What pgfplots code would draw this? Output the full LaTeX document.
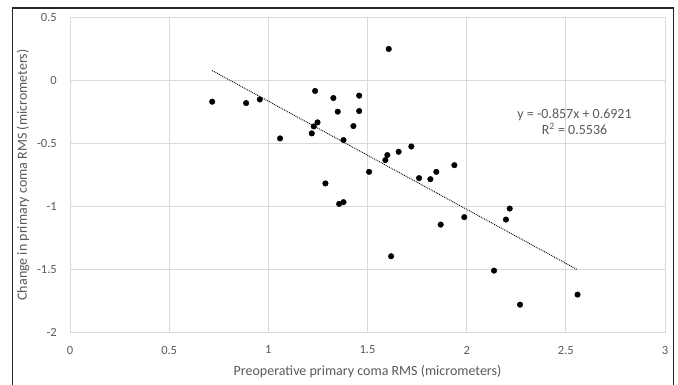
\documentclass[border=0pt]{standalone}
\usepackage{pgfplots}
\pgfplotsset{compat=1.18}
\usepackage{fontspec}
\setmainfont{Carlito}
\definecolor{txt}{HTML}{595959}
\definecolor{gridc}{HTML}{D9D9D9}
\begin{document}
\begin{tikzpicture}
\useasboundingbox (0pt,0pt) rectangle (678pt,384pt);
\draw[line width=1.3pt, color=black!85] (12.5pt,-3pt) -- (12.5pt,376pt) -- (673.5pt,376pt) -- (673.5pt,-3pt);
\begin{axis}[
  at={(70pt,51.3pt)}, anchor=south west,
  scale only axis, width=595pt, height=315.4pt,
  xmin=0, xmax=3, ymin=-2, ymax=0.5,
  xtick={0,0.5,1,1.5,2,2.5,3},
  ytick={-2,-1.5,-1,-0.5,0,0.5},
  grid=major,
  major grid style={draw=gridc, line width=0.8pt},
  axis line style={draw=gridc, line width=0.8pt},
  major tick length=0pt,
  /pgf/number format/assume math mode=true,
  tick label style={font=\fontsize{12.5}{14}\selectfont, text=txt, inner sep=0pt},
  xticklabel style={anchor=north, yshift=-13pt},
  yticklabel style={anchor=east, xshift=-13pt},
  clip=false,
]
\addplot[only marks, mark=*, mark size=2.8pt, color=black] coordinates {
(0.717,-0.169) (0.888,-0.180) (0.957,-0.151) (1.059,-0.460) (1.236,-0.084)
(1.328,-0.140) (1.458,-0.121) (1.350,-0.248) (1.458,-0.243) (1.248,-0.333)
(1.229,-0.365) (1.219,-0.420) (1.429,-0.362) (1.379,-0.473) (1.600,-0.592)
(1.590,-0.632) (1.508,-0.725) (1.288,-0.817) (1.357,-0.979) (1.379,-0.965)
(1.657,-0.566) (1.607,0.249) (1.721,-0.524) (1.760,-0.775) (1.817,-0.783)
(1.847,-0.725) (1.938,-0.672) (1.869,-1.143) (1.988,-1.084) (2.198,-1.103)
(2.217,-1.016) (1.619,-1.394) (2.138,-1.508) (2.269,-1.778) (2.559,-1.698)
};
\addplot[black, densely dotted, line width=0.9pt] coordinates {(0.717,0.0776) (2.559,-1.5010)};
\node[align=center, font=\fontsize{14}{15.5}\selectfont, text=txt] at (axis cs:2.544,-0.33) {y = -0.857x + 0.6921\\R\textsuperscript{2} = 0.5536};
\end{axis}
\node[font=\fontsize{14}{16}\selectfont, text=txt] at (367.5pt,12pt) {Preoperative primary coma RMS (micrometers)};
\node[font=\fontsize{14}{16}\selectfont, text=txt, rotate=90] at (23pt,209pt) {Change in primary coma RMS (micrometers)};
\end{tikzpicture}
\end{document}
